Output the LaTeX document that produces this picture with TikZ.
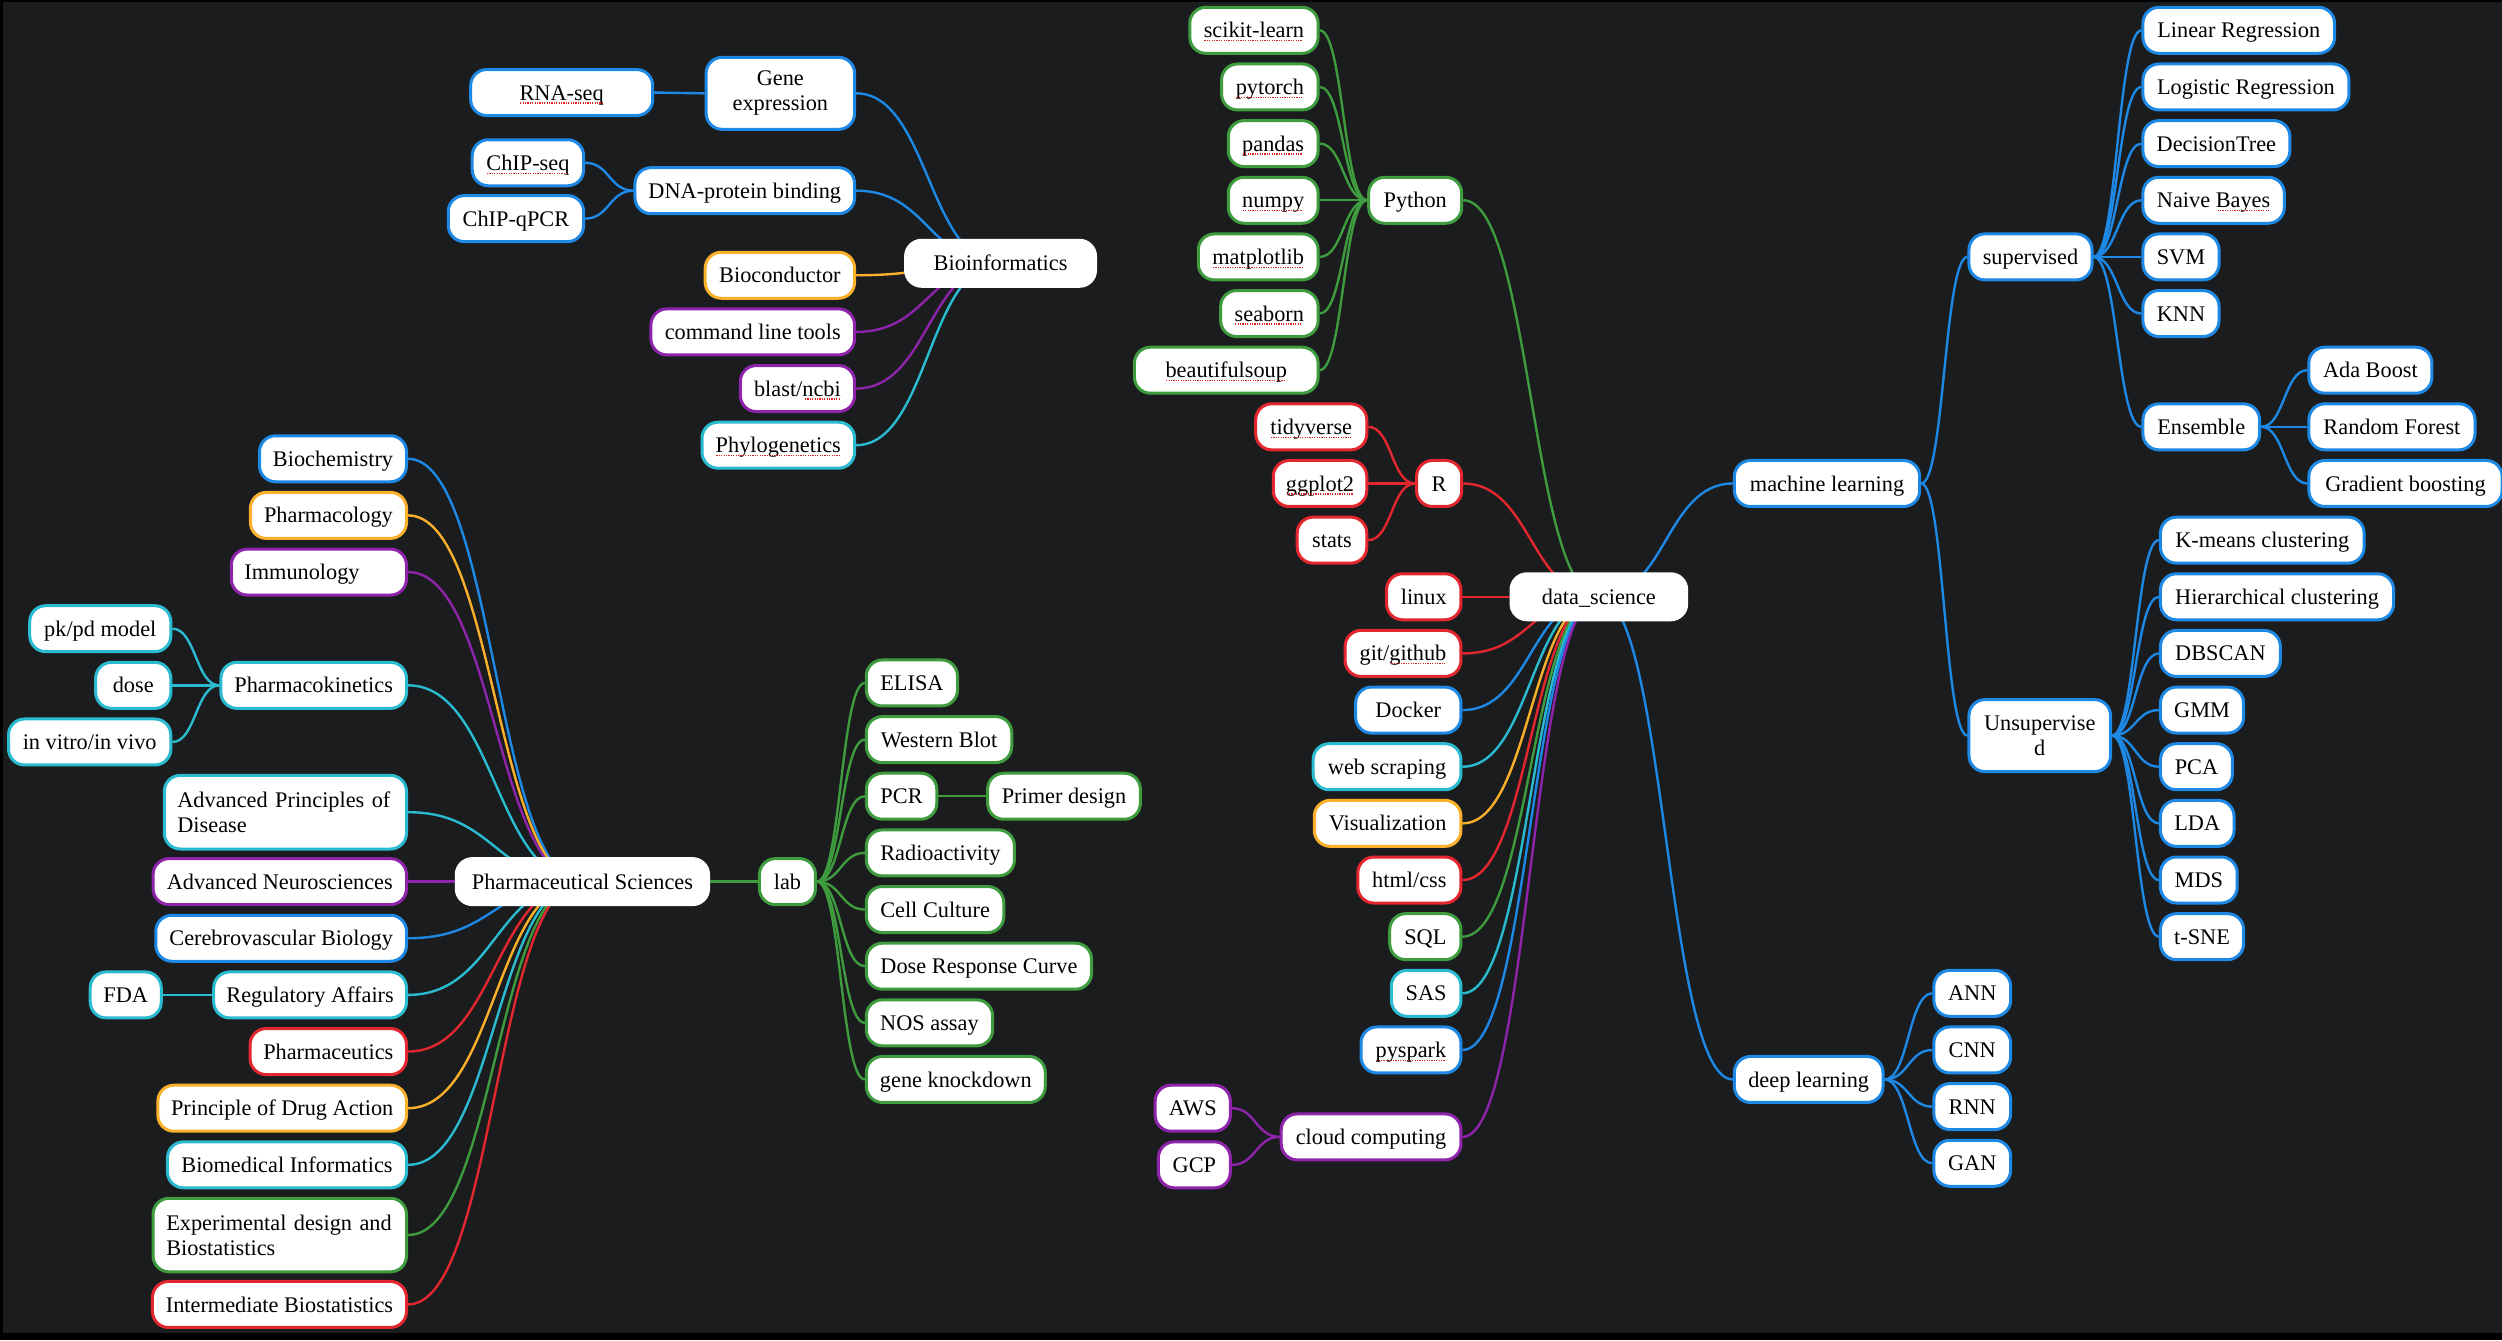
\documentclass[tikz,border=0pt]{standalone}
\usepackage{fontspec}
\setmainfont{Liberation Serif}
\usetikzlibrary{calc}
\definecolor{cblue}{HTML}{1E88E5}
\definecolor{cgreen}{HTML}{3E9B3E}
\definecolor{corange}{HTML}{FBB02B}
\definecolor{cpurple}{HTML}{8E24AA}
\definecolor{ccyan}{HTML}{2BBBD0}
\definecolor{cred}{HTML}{E2282E}
\definecolor{bgc}{HTML}{1B1C1E}
\definecolor{spell}{HTML}{E02020}
\pgfdeclarelayer{bg}
\pgfsetlayers{bg,main}
\newsavebox\sqbox
\newcommand\sqg[1]{\sbox\sqbox{#1}\rlap{\usebox\sqbox}\textcolor{spell}{\leaders\hbox to 2.4pt{\hss\rule[-3.5pt]{1.2pt}{1.2pt}\hss}\hskip\wd\sqbox}}
\tikzset{
  nb/.style={draw=#1, fill=white, line width=3pt, rounded corners=16pt,
    minimum height=46pt, inner xsep=6pt, inner ysep=2pt,
    text height=19.9pt, text depth=4.8pt,
    font=\fontsize{22.3pt}{25pt}\selectfont, text=black},
  twoline/.style={text height={}, text depth={}},
  lk/.style={line width=2.4pt, draw=#1},
}
\newcommand\mn[7][]{\node[nb=#3, minimum width={(#5-#4)*1.5957pt-3pt},#1] (#2) at ({(#4+#5)/2},#6) {#7};}
\newcommand\lk[3]{\draw[lk=#3] let \p1=(#1), \p2=(#2) in (\p1) .. controls ({(\x1+\x2)/2},\y1) and ({(\x1+\x2)/2},\y2) .. (\p2);}
\begin{document}
\begin{tikzpicture}[x=1.5957pt,y=-1.5957pt]
\useasboundingbox (0,0) rectangle (1568,840);
\begin{pgfonlayer}{bg}
\fill[black] (0,0) rectangle (1568,840);
\fill[bgc] (1.9,1.25) rectangle (1568,835.4);
\end{pgfonlayer}
% ---------- Bioinformatics ----------
\mn{rna}{cblue}{294}{410}{58}{\sqg{RNA-seq}}
\mn[twoline, minimum height=72pt, align=center]{gene}{cblue}{441.6}{536.5}{58.5}{Gene\\expression}
\mn{chipseq}{cblue}{295}{366.7}{102}{\sqg{ChIP-seq}}
\mn{chipq}{cblue}{280}{366.7}{137}{ChIP-qPCR}
\mn{dna}{cblue}{397}{536.5}{119.5}{DNA-protein binding}
\mn{bio}{white}{566.6}{687.5}{165}{Bioinformatics}
\mn{bcond}{corange}{441}{536.5}{172.5}{Bioconductor}
\mn{cmd}{cpurple}{407}{536.5}{208}{command line tools}
\mn{blast}{cpurple}{463}{536.5}{243.5}{blast/\sqg{ncbi}}
\mn{phylo}{ccyan}{439}{536.5}{279}{\sqg{Phylogenetics}}
% ---------- Pharmaceutical Sciences ----------
\mn{biochem}{cblue}{161.7}{255.7}{287.5}{Biochemistry}
\mn{pharmacol}{corange}{156}{255.7}{323}{Pharmacology}
\mn[inner xsep=13pt, text width=149pt, align=left]{immuno}{cpurple}{144}{255.7}{358.5}{Immunology}
\mn{pkpd}{ccyan}{17.7}{108}{394}{pk/pd model}
\mn{dose}{ccyan}{59}{108}{429.5}{dose}
\mn{vitro}{ccyan}{4.4}{108}{465}{in vitro/in vivo}
\mn{pk}{ccyan}{137.5}{255.7}{429.5}{Pharmacokinetics}
\mn[twoline, minimum height=73.6pt, inner xsep=13pt, text width=216pt, align=left]{adv}{ccyan}{102}{255.7}{509}{Advanced Principles of\\Disease}
\mn{neuro}{cpurple}{95}{255.7}{552.5}{Advanced Neurosciences}
\mn{pharmsci}{white}{285}{445}{552.5}{Pharmaceutical Sciences}
\mn{cereb}{cblue}{96.7}{255.7}{588}{Cerebrovascular Biology}
\mn{fda}{ccyan}{55.6}{102}{623.5}{FDA}
\mn{reg}{ccyan}{133}{255.7}{623.5}{Regulatory Affairs}
\mn{pceut}{cred}{155.8}{255.7}{659}{Pharmaceutics}
\mn{pda}{corange}{98}{255.7}{694.5}{Principle of Drug Action}
\mn{bmi}{ccyan}{104}{255.7}{730}{Biomedical Informatics}
\mn[twoline, minimum height=73.6pt, inner xsep=13pt, text width=227pt, align=left]{expd}{cgreen}{95}{255.7}{774}{Experimental design and\\Biostatistics}
\mn{ibio}{cred}{94.6}{255.7}{817.5}{Intermediate Biostatistics}
% ---------- lab ----------
\mn{lab}{cgreen}{475}{512}{552.5}{lab}
\mn{elisa}{cgreen}{542}{601}{428}{ELISA}
\mn{wb}{cgreen}{542}{635}{463.5}{Western Blot}
\mn{pcr}{cgreen}{542}{588}{499}{PCR}
\mn{primer}{cgreen}{618}{715.6}{499}{Primer design}
\mn{radio}{cgreen}{542}{636.7}{534.5}{Radioactivity}
\mn{cell}{cgreen}{542}{630}{570}{Cell Culture}
\mn{drc}{cgreen}{542}{685}{605.5}{Dose Response Curve}
\mn{nos}{cgreen}{542}{623}{641}{NOS assay}
\mn{gkd}{cgreen}{542}{656}{676.5}{gene knockdown}
% ---------- data science ----------
\mn{sk}{cgreen}{744.7}{827}{19}{\sqg{scikit-learn}}
\mn{torch}{cgreen}{764.6}{827}{54.5}{\sqg{pytorch}}
\mn{pandas}{cgreen}{768.8}{827}{90}{\sqg{pandas}}
\mn{numpy}{cgreen}{768.8}{827}{125.5}{\sqg{numpy}}
\mn{mpl}{cgreen}{750}{827}{161}{\sqg{matplotlib}}
\mn{sea}{cgreen}{764}{827}{196.5}{\sqg{seaborn}}
\mn{bsoup}{cgreen}{710}{827}{232}{\sqg{beautifulsoup}}
\mn{py}{cgreen}{856.8}{917}{125.5}{Python}
\mn{tidy}{cred}{786}{857.5}{267.5}{\sqg{tidyverse}}
\mn{gg}{cred}{797}{857.5}{303}{\sqg{ggplot2}}
\mn{stats}{cred}{812}{857.5}{338.5}{stats}
\mn{rlang}{cred}{886.8}{917}{303}{R}
\mn{ds}{white}{946}{1058}{374}{data\_science}
\mn{linux}{cred}{868}{916.5}{374}{linux}
\mn{git}{cred}{842}{916.5}{409.5}{git/\sqg{github}}
\mn{docker}{cblue}{848.6}{916.5}{445}{Docker}
\mn{web}{ccyan}{822}{916.5}{480.5}{web scraping}
\mn{vis}{corange}{822.7}{916.5}{516}{Visualization}
\mn{html}{cred}{850}{916.5}{551.5}{html/css}
\mn{sql}{cgreen}{870}{916.5}{587}{SQL}
\mn{sas}{ccyan}{871}{916.5}{622.5}{SAS}
\mn{pys}{cblue}{852}{916.5}{658}{\sqg{pyspark}}
\mn{cloud}{cpurple}{802}{916.5}{712.5}{cloud computing}
\mn{aws}{cpurple}{723}{772}{694.5}{AWS}
\mn{gcp}{cpurple}{725}{772}{730}{GCP}
% ---------- machine learning ----------
\mn{ml}{cblue}{1086}{1204}{303}{machine learning}
\mn{sup}{cblue}{1233}{1312}{161}{supervised}
\mn{linr}{cblue}{1342}{1464}{19}{Linear Regression}
\mn{logr}{cblue}{1342}{1473}{54.5}{Logistic Regression}
\mn{dt}{cblue}{1342}{1436}{90}{DecisionTree}
\mn{nbayes}{cblue}{1342}{1432.5}{125.5}{Naive \sqg{Bayes}}
\mn{svm}{cblue}{1342}{1391.6}{161}{SVM}
\mn{knn}{cblue}{1342}{1391.6}{196.5}{KNN}
\mn{ens}{cblue}{1342}{1417}{267.5}{Ensemble}
\mn{ada}{cblue}{1446}{1525}{232}{Ada Boost}
\mn{rf}{cblue}{1446}{1552}{267.5}{Random Forest}
\mn{gb}{cblue}{1446}{1569}{303}{Gradient boosting}
\mn[twoline, minimum height=72pt, align=center]{uns}{cblue}{1233}{1323.6}{461}{Unsupervise\\d}
\mn{km}{cblue}{1353}{1482.5}{338.5}{K-means clustering}
\mn{hc}{cblue}{1353}{1501}{374}{Hierarchical clustering}
\mn{dbs}{cblue}{1353}{1430}{409.5}{DBSCAN}
\mn{gmm}{cblue}{1353}{1407}{445}{GMM}
\mn{pca}{cblue}{1353}{1400}{480.5}{PCA}
\mn{lda}{cblue}{1353}{1401}{516}{LDA}
\mn{mds}{cblue}{1353}{1403}{551.5}{MDS}
\mn{tsne}{cblue}{1353}{1407}{587}{t-SNE}
\mn{dl}{cblue}{1086}{1181}{676.5}{deep learning}
\mn{ann}{cblue}{1211}{1261}{622.5}{ANN}
\mn{cnn}{cblue}{1211}{1261}{658}{CNN}
\mn{rnn}{cblue}{1211}{1261}{693.5}{RNN}
\mn{gan}{cblue}{1211}{1261}{729}{GAN}
% ---------- connectors ----------
\begin{pgfonlayer}{bg}
\lk{gene.east}{bio.center}{cblue}
\lk{rna.east}{gene.west}{cblue}
\lk{dna.east}{bio.center}{cblue}
\lk{chipseq.east}{dna.west}{cblue}
\lk{chipq.east}{dna.west}{cblue}
\lk{bcond.east}{bio.center}{corange}
\lk{cmd.east}{bio.center}{cpurple}
\lk{blast.east}{bio.center}{cpurple}
\lk{phylo.east}{bio.center}{ccyan}
%
\lk{biochem.east}{pharmsci.center}{cblue}
\lk{pharmacol.east}{pharmsci.center}{corange}
\lk{immuno.east}{pharmsci.center}{cpurple}
\lk{pk.east}{pharmsci.center}{ccyan}
\lk{pkpd.east}{pk.west}{ccyan}
\lk{dose.east}{pk.west}{ccyan}
\lk{vitro.east}{pk.west}{ccyan}
\lk{adv.east}{pharmsci.center}{ccyan}
\lk{neuro.east}{pharmsci.center}{cpurple}
\lk{cereb.east}{pharmsci.center}{cblue}
\lk{reg.east}{pharmsci.center}{ccyan}
\lk{fda.east}{reg.west}{ccyan}
\lk{pceut.east}{pharmsci.center}{cred}
\lk{pda.east}{pharmsci.center}{corange}
\lk{bmi.east}{pharmsci.center}{ccyan}
\lk{expd.east}{pharmsci.center}{cgreen}
\lk{ibio.east}{pharmsci.center}{cred}
\lk{pharmsci.center}{lab.west}{cgreen}
\lk{lab.east}{elisa.west}{cgreen}
\lk{lab.east}{wb.west}{cgreen}
\lk{lab.east}{pcr.west}{cgreen}
\lk{pcr.east}{primer.west}{cgreen}
\lk{lab.east}{radio.west}{cgreen}
\lk{lab.east}{cell.west}{cgreen}
\lk{lab.east}{drc.west}{cgreen}
\lk{lab.east}{nos.west}{cgreen}
\lk{lab.east}{gkd.west}{cgreen}
%
\lk{py.east}{ds.center}{cgreen}
\lk{sk.east}{py.west}{cgreen}
\lk{torch.east}{py.west}{cgreen}
\lk{pandas.east}{py.west}{cgreen}
\lk{numpy.east}{py.west}{cgreen}
\lk{mpl.east}{py.west}{cgreen}
\lk{sea.east}{py.west}{cgreen}
\lk{bsoup.east}{py.west}{cgreen}
\lk{rlang.east}{ds.center}{cred}
\lk{tidy.east}{rlang.west}{cred}
\lk{gg.east}{rlang.west}{cred}
\lk{stats.east}{rlang.west}{cred}
\lk{linux.east}{ds.center}{cred}
\lk{git.east}{ds.center}{cred}
\lk{docker.east}{ds.center}{cblue}
\lk{web.east}{ds.center}{ccyan}
\lk{vis.east}{ds.center}{corange}
\lk{html.east}{ds.center}{cred}
\lk{sql.east}{ds.center}{cgreen}
\lk{sas.east}{ds.center}{ccyan}
\lk{pys.east}{ds.center}{cblue}
\lk{cloud.east}{ds.center}{cpurple}
\lk{aws.east}{cloud.west}{cpurple}
\lk{gcp.east}{cloud.west}{cpurple}
\lk{ds.center}{ml.west}{cblue}
\lk{ds.center}{dl.west}{cblue}
\lk{ml.east}{sup.west}{cblue}
\lk{ml.east}{uns.west}{cblue}
\lk{sup.east}{linr.west}{cblue}
\lk{sup.east}{logr.west}{cblue}
\lk{sup.east}{dt.west}{cblue}
\lk{sup.east}{nbayes.west}{cblue}
\lk{sup.east}{svm.west}{cblue}
\lk{sup.east}{knn.west}{cblue}
\lk{sup.east}{ens.west}{cblue}
\lk{ens.east}{ada.west}{cblue}
\lk{ens.east}{rf.west}{cblue}
\lk{ens.east}{gb.west}{cblue}
\lk{uns.east}{km.west}{cblue}
\lk{uns.east}{hc.west}{cblue}
\lk{uns.east}{dbs.west}{cblue}
\lk{uns.east}{gmm.west}{cblue}
\lk{uns.east}{pca.west}{cblue}
\lk{uns.east}{lda.west}{cblue}
\lk{uns.east}{mds.west}{cblue}
\lk{uns.east}{tsne.west}{cblue}
\lk{dl.east}{ann.west}{cblue}
\lk{dl.east}{cnn.west}{cblue}
\lk{dl.east}{rnn.west}{cblue}
\lk{dl.east}{gan.west}{cblue}
\end{pgfonlayer}
\end{tikzpicture}
\end{document}
